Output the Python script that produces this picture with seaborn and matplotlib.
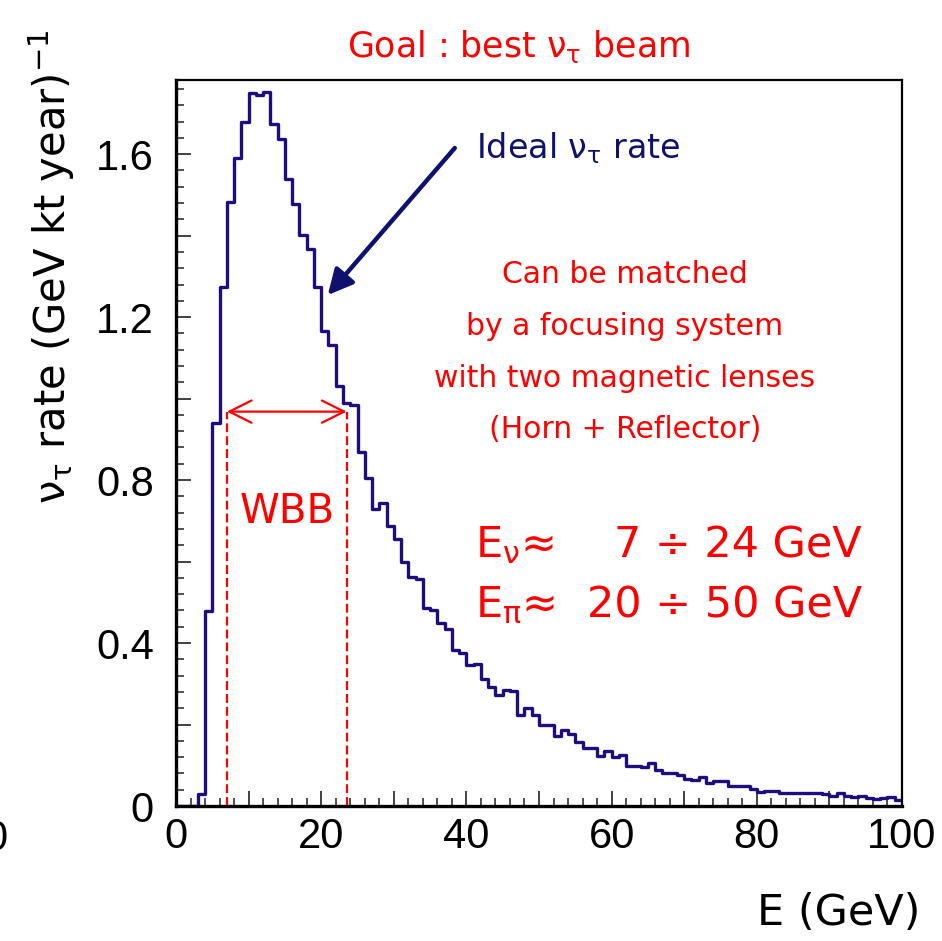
import numpy as np
import pandas as pd
import matplotlib
matplotlib.use("Agg")
import matplotlib.pyplot as plt
import seaborn as sns
from matplotlib.ticker import MultipleLocator, FuncFormatter

# ---------------- data ----------------
bin_edges = list(range(0, 101))
rate = [
    0.0, 0.0, 0.0, 0.03, 0.479, 0.94, 1.274, 1.483, 1.590, 1.678,
    1.749, 1.746, 1.752, 1.675, 1.637, 1.540, 1.477, 1.401, 1.368, 1.273,
    1.166, 1.131, 1.031, 0.988, 0.984, 0.870, 0.806, 0.728, 0.744, 0.688,
    0.655, 0.600, 0.561, 0.557, 0.487, 0.481, 0.448, 0.435, 0.384, 0.375,
    0.346, 0.348, 0.311, 0.291, 0.272, 0.285, 0.282, 0.223, 0.241, 0.223,
    0.200, 0.199, 0.172, 0.186, 0.177, 0.158, 0.143, 0.143, 0.123, 0.136,
    0.121, 0.125, 0.098, 0.098, 0.096, 0.105, 0.088, 0.080, 0.082, 0.076,
    0.066, 0.065, 0.072, 0.056, 0.061, 0.061, 0.050, 0.049, 0.049, 0.041,
    0.035, 0.037, 0.038, 0.033, 0.033, 0.033, 0.033, 0.031, 0.033, 0.029,
    0.025, 0.031, 0.025, 0.023, 0.025, 0.019, 0.017, 0.019, 0.023, 0.015,
]
wbb_range = [7.0, 23.5]
wbb_level = 0.968
arrow_tip = (20.9, 1.254)
arrow_tail = (38.4, 1.615)
x_labelled = [0, 20, 40, 60, 80, 100]
y_labelled = [0.0, 0.4, 0.8, 1.2, 1.6]

# ---------------- style ----------------
sns.set_theme(style="ticks")
plt.rcParams['font.family'] = ['DejaVu Sans']
plt.rcParams['mathtext.fontset'] = 'dejavusans'

RED = '#ff0000'
NAVY = '#10106e'
HIST = '#200c7c'

W, H = 942, 941
fig = plt.figure(figsize=(W / 100, H / 100), dpi=100)
fig.patch.set_facecolor('white')
ax = fig.add_axes([176 / W, 1 - 806 / H, (902 - 176) / W, (806 - 80) / H])
ax.set_facecolor('white')

centers = [e + 0.5 for e in bin_edges[:-1]]
df = pd.DataFrame({"E": centers, "rate": rate})
sns.histplot(data=df, x="E", weights="rate", bins=bin_edges, element="step",
             fill=False, color=HIST, linewidth=2.4, ax=ax)

ax.set_xlim(0, 100)
ax.set_ylim(0, 1.782)
ax.set_xlabel("")
ax.set_ylabel("")

ax.xaxis.set_major_locator(MultipleLocator(10))
ax.xaxis.set_minor_locator(MultipleLocator(2))
ax.yaxis.set_major_locator(MultipleLocator(0.2))
ax.yaxis.set_minor_locator(MultipleLocator(0.04))


def xfmt(v, pos):
    iv = int(round(v))
    return str(iv) if iv in x_labelled else ""


def yfmt(v, pos):
    for t in y_labelled:
        if abs(v - t) < 1e-6:
            return "0" if t == 0 else f"{t:.1f}"
    return ""


ax.xaxis.set_major_formatter(FuncFormatter(xfmt))
ax.yaxis.set_major_formatter(FuncFormatter(yfmt))

ax.tick_params(axis='both', which='major', direction='in', length=11, width=1.3,
               labelsize=30, color='#333333', labelcolor='black',
               labelfontfamily='Liberation Sans')
ax.tick_params(axis='both', which='minor', direction='in', length=6, width=1.2,
               color='#333333')
ax.tick_params(axis='x', which='major', pad=8)
ax.tick_params(axis='y', which='major', pad=16)
for name, sp in ax.spines.items():
    sp.set_color('black')
    sp.set_linewidth(2.4 if name in ('left', 'bottom') else 1.6)


def ftext(x, y, s, **kw):
    fig.text(x / W, 1 - y / H, s, **kw)


# WBB markers
for xv in wbb_range:
    ax.plot([xv, xv], [0, wbb_level], color=RED, lw=1.6, ls=(0, (4, 1.8)))
ax.annotate("", xy=(wbb_range[0], wbb_level), xytext=(wbb_range[1], wbb_level),
            arrowprops=dict(arrowstyle='<->', color=RED, lw=1.6,
                            mutation_scale=40, shrinkA=0, shrinkB=0))
ftext(287, 523, "WBB", color=RED, fontsize=29, ha='center', va='baseline')

# ideal arrow
ax.annotate("", xy=arrow_tip, xytext=arrow_tail,
            arrowprops=dict(arrowstyle='-|>', color=NAVY, lw=3.2,
                            mutation_scale=38, shrinkA=0, shrinkB=0))

ftext(519, 57, r"Goal : best ν$_\mathrm{\tau}$ beam", color=RED, fontsize=25,
      ha='center', va='baseline')
ftext(578, 158, r"Ideal ν$_\mathrm{\tau}$ rate", color=NAVY, fontsize=24,
      ha='center', va='baseline')
for yb, line in zip([283, 335, 387, 438],
                    ["Can be matched", "by a focusing system",
                     "with two magnetic lenses", "(Horn + Reflector)"]):
    ftext(625, yb, line, color=RED, fontsize=21.5, ha='center', va='baseline')

ftext(475, 557, r"E$_\mathrm{\nu}$≈", color=RED, fontsize=31, ha='left', va='baseline')
ftext(862, 557, "7 ÷ 24 GeV", color=RED, fontsize=31, ha='right', va='baseline')
ftext(475, 617, r"E$_\mathrm{\pi}$≈", color=RED, fontsize=31, ha='left', va='baseline')
ftext(862, 617, "20 ÷ 50 GeV", color=RED, fontsize=31, ha='right', va='baseline')

# axis titles
ftext(52, 267, r"ν$_\mathrm{\tau}$ rate (GeV kt year)$^{-1}$", color='black',
      fontsize=30, rotation=90, ha='center', va='center')
ftext(920, 925, "E (GeV)", color='black', fontsize=31, ha='right', va='baseline')

# clipped fragment at the left edge
ftext(-4, 850, "0", color='black', fontsize=30, ha='center', va='baseline',
      family='Liberation Sans')

fig.savefig("out.png", dpi=100, facecolor='white')
